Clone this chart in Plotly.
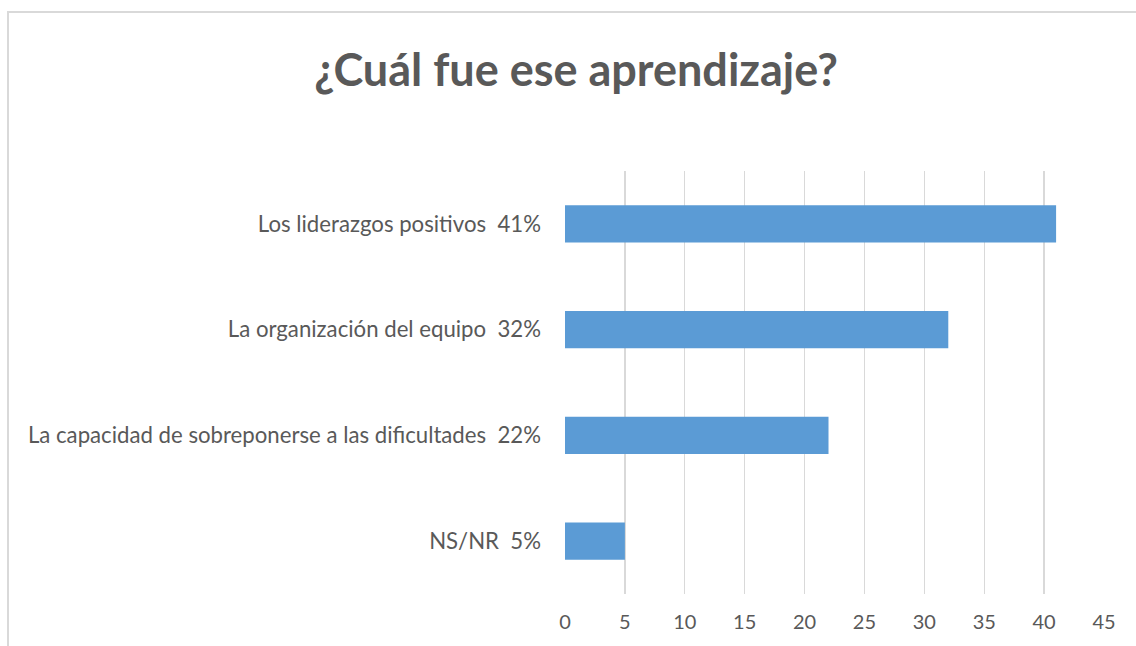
import plotly.graph_objects as go

categories = [
    "Los liderazgos positivos\u00a0\u00a041%",
    "La organización del equipo\u00a0\u00a032%",
    "La capacidad de sobreponerse a las dificultades\u00a0\u00a022%",
    "NS/NR\u00a0\u00a05%",
]
values = [41, 32, 22, 5]
tick_vals = [0, 5, 10, 15, 20, 25, 30, 35, 40, 45]

W, H = 1136, 646
ml, mr, mt, mb = 565, 32, 171, 52
pw, ph = W - ml - mr, H - mt - mb

def px_x(p):
    return (p - ml) / pw

def px_y(p):
    return (H - mb - p) / ph

fig = go.Figure(go.Bar(
    x=values, y=categories, orientation="h",
    marker=dict(color="#5b9bd5", line=dict(width=0)),
    hoverinfo="skip",
))

fig.update_layout(
    width=W, height=H,
    margin=dict(l=ml, r=mr, t=mt, b=mb, autoexpand=False),
    paper_bgcolor="white", plot_bgcolor="white",
    bargap=0.65,
    showlegend=False,
    title=dict(text="<b>¿Cuál fue ese aprendizaje?</b>", x=576 / W, xanchor="center",
               y=1 - 70 / H, yanchor="middle",
               font=dict(family="Lato, Open Sans, sans-serif", size=45, color="#595959")),
    font=dict(family="Lato, Open Sans, sans-serif", size=21, color="#595959"),
    xaxis=dict(range=[0, 45], tickvals=tick_vals, showgrid=True, gridcolor="#d9d9d9",
               gridwidth=1.3, zeroline=False, showline=False, ticks="",
               ticklabelstandoff=14, tickfont=dict(size=20, color="#595959")),
    yaxis=dict(autorange="reversed", showgrid=False, zeroline=False, showline=False,
               ticks="", ticklabelstandoff=23, tickfont=dict(size=22.2, color="#595959")),
    shapes=[dict(type="rect", xref="paper", yref="paper",
                 x0=px_x(8), x1=px_x(1145), y0=px_y(655), y1=px_y(12),
                 line=dict(color="#d9d9d9", width=2), fillcolor="rgba(0,0,0,0)", layer="below")],
)

fig.write_html("out.html", config={"displayModeBar": False, "staticPlot": True},
               post_script="document.body.style.margin='0';document.body.style.overflow='hidden';")
